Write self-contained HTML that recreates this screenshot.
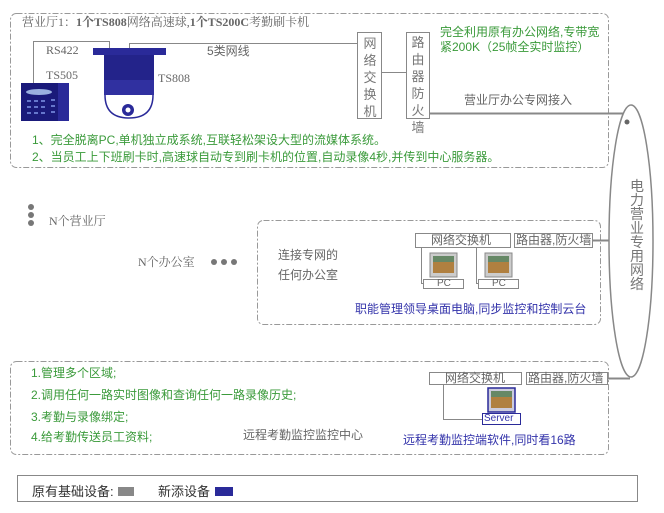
<!DOCTYPE html>
<html><head><meta charset="utf-8"><style>
body{margin:0;width:664px;height:513px;background:#fff;overflow:hidden;position:relative;font-family:"Liberation Sans","Noto Sans CJK SC",sans-serif;}
.t{position:absolute;white-space:nowrap;font-size:12px;line-height:14px;}
.g{color:#3a9a3a}.gr{color:#666}.b{color:#3333aa}
.v{position:absolute;width:22px;text-align:center;font-size:13px;line-height:17px;color:#777;}
</style></head><body>
<svg width="664" height="513" style="position:absolute;left:0;top:0">
<g fill="none" stroke="#999" stroke-width="1" stroke-dasharray="6,2,2,2">
<rect x="10.5" y="13.5" width="598" height="154" rx="6"/>
<rect x="257.5" y="220.5" width="343" height="104" rx="6"/>
<rect x="10.5" y="361.5" width="598" height="93" rx="6"/>
</g>
<g stroke="#888" fill="none" stroke-width="1">
<polyline points="33.5,84 33.5,41.5 109.5,41.5 109.5,50"/>
<polyline points="129.5,48 129.5,43.5 357,43.5"/>
<rect x="357.5" y="32.5" width="24" height="86" fill="#fff"/>
<rect x="406.5" y="32.5" width="23" height="86" fill="#fff"/>
<line x1="382" y1="72.5" x2="406" y2="72.5"/>
<line x1="430" y1="113.5" x2="623" y2="113.5" stroke-width="2"/>
<ellipse cx="631" cy="241" rx="22" ry="136" stroke-width="1.5"/>
<rect x="415.5" y="233.5" width="95" height="14" fill="#fff"/>
<rect x="514.5" y="233.5" width="78" height="14" fill="#fff"/>
<line x1="593" y1="240.5" x2="609" y2="240.5" stroke-width="2"/>
<polyline points="421.5,248 421.5,283.5 424,283.5"/>
<polyline points="476.5,248 476.5,283.5 479,283.5"/>
<rect x="423.5" y="279.5" width="40" height="9" fill="#fff"/>
<rect x="478.5" y="279.5" width="40" height="9" fill="#fff"/>
<rect x="429.5" y="372.5" width="92" height="12" fill="#fff"/>
<rect x="526.5" y="372.5" width="81" height="12" fill="#fff"/>
<line x1="608" y1="378.5" x2="630" y2="378.5" stroke-width="2"/>
<polyline points="443.5,385 443.5,419.5 482,419.5"/>
<rect x="17.5" y="475.5" width="620" height="26"/>
</g>
<circle cx="627" cy="122" r="2.5" fill="#666"/>
<rect x="21" y="83" width="48" height="38" fill="#1a1a7a"/>
<rect x="58" y="83" width="11" height="38" fill="#2a2a99"/>
<ellipse cx="39" cy="92" rx="13" ry="3" fill="#9ab0e0"/>
<g fill="#6677cc"><rect x="27" y="100" width="4" height="2"/><rect x="34" y="100" width="4" height="2"/><rect x="41" y="100" width="4" height="2"/><rect x="27" y="106" width="4" height="2"/><rect x="34" y="106" width="4" height="2"/><rect x="41" y="106" width="4" height="2"/><rect x="27" y="112" width="4" height="2"/><rect x="34" y="112" width="4" height="2"/><rect x="41" y="112" width="4" height="2"/><rect x="51" y="99" width="4" height="2"/><rect x="51" y="105" width="4" height="2"/><rect x="51" y="111" width="4" height="2"/></g>
<path d="M105,95 Q105,118 129,118 Q153,118 153,95" fill="#fff" stroke="#2a2a99" stroke-width="1.5"/>
<rect x="93" y="48" width="73" height="7" fill="#2a2a99"/>
<rect x="104" y="55" width="50" height="40" fill="#23238a"/>
<rect x="104" y="80" width="50" height="15" fill="#3030a0"/>
<circle cx="128" cy="110" r="6" fill="#2a2a99"/><circle cx="128" cy="110" r="2.5" fill="#fff"/>
<g>
<rect x="430" y="253" width="27" height="24" fill="#ccc" stroke="#888"/><rect x="433" y="256" width="21" height="17" fill="#b08040"/><rect x="433" y="256" width="21" height="6" fill="#668866"/>
<rect x="485" y="253" width="27" height="24" fill="#ccc" stroke="#888"/><rect x="488" y="256" width="21" height="17" fill="#b08040"/><rect x="488" y="256" width="21" height="6" fill="#668866"/>
<rect x="488" y="388" width="27" height="24" fill="#ccd" stroke="#2a2a99" stroke-width="1.5"/><rect x="491" y="391" width="21" height="17" fill="#b08040"/><rect x="491" y="391" width="21" height="6" fill="#668866"/>
<rect x="482.5" y="413.5" width="38" height="11" fill="#fff" stroke="#2a2a99"/>
</g>
<g fill="#777"><circle cx="31" cy="207" r="3"/><circle cx="31" cy="215" r="3"/><circle cx="31" cy="223" r="3"/>
<circle cx="214" cy="262" r="3"/><circle cx="224" cy="262" r="3"/><circle cx="234" cy="262" r="3"/></g>
<rect x="118" y="487" width="16" height="9" fill="#888"/>
<rect x="215" y="487" width="18" height="9" fill="#2a2a99"/>
</svg>
<div class="t gr" style="left:22px;top:15px;font-family:'Liberation Serif','Noto Serif CJK SC',serif;">营业厅1：<b>1个TS808</b>网络高速球,<b>1个TS200C</b>考勤刷卡机</div>
<div class="t gr" style="left:46px;top:43px;font-family:'Liberation Serif',serif;">RS422</div>
<div class="t gr" style="left:46px;top:68px;font-family:'Liberation Serif',serif;">TS505</div>
<div class="t gr" style="left:158px;top:71px;font-family:'Liberation Serif',serif;">TS808</div>
<div class="t gr" style="left:207px;top:44px;">5类网线</div>
<div class="v" style="left:359px;top:35px;">网络交换机</div>
<div class="v" style="left:407px;top:34px;">路由器防火墙</div>
<div class="t g" style="left:440px;top:25px;">完全利用原有办公网络,专带宽</div>
<div class="t g" style="left:440px;top:40px;">紧200K（25帧全实时监控）</div>
<div class="t gr" style="left:464px;top:93px;">营业厅办公专网接入</div>
<div class="t g" style="left:32px;top:133px;">1、完全脱离PC,单机独立成系统,互联轻松架设大型的流媒体系统。</div>
<div class="t g" style="left:32px;top:150px;">2、当员工上下班刷卡时,高速球自动专到刷卡机的位置,自动录像4秒,并传到中心服务器。</div>
<div class="v" style="left:626px;top:179px;font-size:14px;line-height:14px;color:#777;">电力营业专用网络</div>
<div class="t gr" style="left:49px;top:214px;font-family:'Liberation Serif','Noto Serif CJK SC',serif;">N个营业厅</div>
<div class="t gr" style="left:138px;top:255px;font-family:'Liberation Serif','Noto Serif CJK SC',serif;">N个办公室</div>
<div class="t gr" style="left:278px;top:248px;">连接专网的</div>
<div class="t gr" style="left:278px;top:268px;">任何办公室</div>
<div class="t gr" style="left:431px;top:233px;">网络交换机</div>
<div class="t gr" style="left:516px;top:233px;">路由器,防火墙</div>
<div class="t gr" style="left:437px;top:278px;font-size:10px;line-height:11px;">PC</div>
<div class="t gr" style="left:492px;top:278px;font-size:10px;line-height:11px;">PC</div>
<div class="t b" style="left:355px;top:302px;">职能管理领导桌面电脑,同步监控和控制云台</div>
<div class="t g" style="left:31px;top:366px;">1.管理多个区域;</div>
<div class="t g" style="left:31px;top:388px;">2.调用任何一路实时图像和查询任何一路录像历史;</div>
<div class="t g" style="left:31px;top:410px;">3.考勤与录像绑定;</div>
<div class="t g" style="left:31px;top:430px;">4.给考勤传送员工资料;</div>
<div class="t gr" style="left:243px;top:428px;">远程考勤监控监控中心</div>
<div class="t gr" style="left:445px;top:371px;">网络交换机</div>
<div class="t gr" style="left:528px;top:371px;">路由器,防火墙</div>
<div class="t b" style="left:484px;top:413px;font-size:10px;line-height:12px;">Server</div>
<div class="t b" style="left:403px;top:433px;">远程考勤监控端软件,同时看16路</div>
<div class="t" style="left:32px;top:485px;color:#333;font-size:13px;">原有基础设备:</div>
<div class="t" style="left:158px;top:485px;color:#333;font-size:13px;">新添设备</div>
</body></html>
